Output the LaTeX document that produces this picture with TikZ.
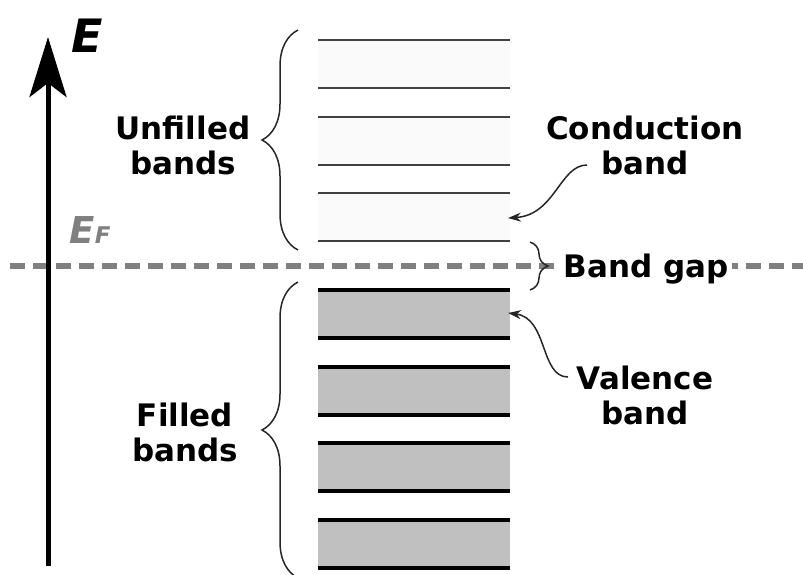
\documentclass[tikz,border=0pt]{standalone}
\usepackage{fontspec}
\setmainfont{DejaVu Sans}
\usetikzlibrary{arrows.meta,decorations.pathreplacing}
\definecolor{emptyband}{HTML}{FAFAFA}
\definecolor{fullband}{HTML}{C0C0C0}
\definecolor{fermi}{HTML}{808080}
\begin{document}
\begin{tikzpicture}[x=1pt,y=-1pt,
    lbl/.style={font=\bfseries\fontsize{31}{35}\selectfont,align=center,inner sep=0pt},
    emptyline/.style={line width=2pt,draw=black!75},
    fullline/.style={line width=3.5pt,draw=black},
    bracket/.style={decorate,decoration={brace,amplitude=#1},line width=1.5pt,draw=black!85},
    pointer/.style={-{Stealth[length=13pt,width=9pt]},line width=1.5pt,draw=black!85},
    fermiline/.style={draw=fermi,line width=6.5pt,dash pattern=on 15pt off 8pt},
    axis/.style={line width=5pt,-{Stealth[length=60pt,width=37pt,inset=14pt]}}]
  \useasboundingbox (0,0) rectangle (803,574);
  \foreach \y in {40,117,193} {
    \fill[emptyband] (318,\y) rectangle (510,\y+48);
    \draw[emptyline] (318,\y) -- (510,\y) (318,\y+48) -- (510,\y+48);
  }
  \foreach \y in {290,367,443,520} {
    \fill[fullband] (318,\y) rectangle (510,\y+48);
    \draw[fullline] (318,\y) -- (510,\y) (318,\y+48) -- (510,\y+48);
  }
  \draw[fermiline] (10,266) -- (803,266);
  \coordinate (axisfoot) at (48,566);
  \coordinate (axistop) at (48,37);
  \draw[axis] (axisfoot) -- (axistop);
  \node[font=\bfseries\itshape\fontsize{46}{46}\selectfont,anchor=base,inner sep=0pt] (elabel) at (87,52) {E};
  \node[font=\bfseries\itshape\fontsize{37}{37}\selectfont,text=fermi,anchor=base,inner sep=0pt] (fermilabel) at (90,243) {E{\fontsize{23}{23}\selectfont F}};
  \coordinate (upperbot) at (298,250);
  \coordinate (uppertop) at (298,30);
  \coordinate (lowerbot) at (298,578);
  \coordinate (lowertop) at (298,282);
  \coordinate (gaptop) at (530,242);
  \coordinate (gapbot) at (530,290);
  \draw[bracket=36pt] (upperbot) -- (uppertop);
  \draw[bracket=36pt] (lowerbot) -- (lowertop);
  \draw[bracket=18pt] (gaptop) -- (gapbot);
  \node[lbl] (unfilled) at (183,145.7) {Unfilled\\bands};
  \node[lbl] (filled) at (185,432.7) {Filled\\bands};
  \node[lbl] (cond) at (645,145.7) {Conduction\\band};
  \node[lbl] (val) at (645,395.7) {Valence\\band};
  \node[lbl,fill=white,inner sep=4pt,anchor=base] (gap) at (646,277) {Band gap};
  \coordinate (condtail) at (587,165);
  \coordinate (condtip) at (508,218);
  \coordinate (valtail) at (568,377);
  \coordinate (valtip) at (508,313);
  \draw[pointer] (condtail) .. controls (560,165) and (555,215) .. (condtip);
  \draw[pointer] (valtail) .. controls (540,377) and (548,318) .. (valtip);
\end{tikzpicture}
\end{document}
